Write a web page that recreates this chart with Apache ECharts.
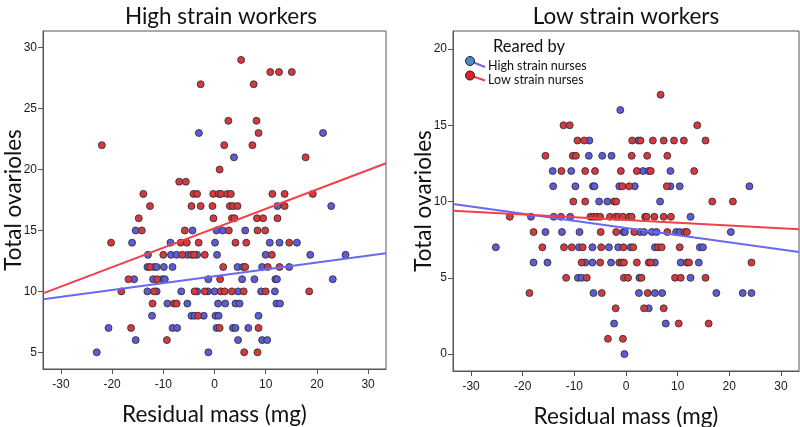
<!DOCTYPE html>
<html>
<head>
<meta charset="utf-8">
<script src="https://cdn.jsdelivr.net/npm/echarts@6/dist/echarts.min.js"></script>
<style>html,body{margin:0;padding:0;background:#fff}#c{width:800px;height:427px}</style>
</head>
<body>
<div id="c"></div>
<script>
// ---- Data ----
const panelTitles = ["High strain workers", "Low strain workers"];
const xAxisTitle = "Residual mass (mg)";
const yAxisTitle = "Total ovarioles";
const seriesNames = ["High strain nurses", "Low strain nurses"];
const legendTitle = "Reared by";
const xTicks = [-30, -20, -10, 0, 10, 20, 30];
const yTicksLeft = [5, 10, 15, 20, 25, 30];
const yTicksRight = [0, 5, 10, 15, 20];

// High strain workers, reared by high strain nurses (blue)
const leftBlue = [
  [-3.05,23],[21.2,23],[3.8,21],[12.3,17],[22.8,17],
  [-15.4,15],[-4.3,15],[0.4,15],[1.6,15],[6.0,15],
  [-16.1,14],[-8.6,14],[0.1,14],[10.8,14],[12.7,14],[16.1,14],
  [-13,13],[-8.5,13],[-7.4,13],[-5.3,13],[-3.4,13],[0.5,13],[10,13],[18.7,13],[25.6,13],
  [-13.1,12],[-11.8,12],[-11.3,12],[-9.9,12],[-8.2,12],[4.5,12],[5.6,12],[9.3,12],[14.6,12],
  [-15.7,11],[-12,11],[-10.2,11],[-9.7,11],[-1.2,11],[5.4,11],[7.8,11],[11.9,11],[12.2,11],[23.1,11],
  [-13.1,10],[-11.3,10],[-6.5,10],[-3.4,10],[-1.3,10],[0,10],[4.6,10],[9.1,10],[11.8,10],
  [-9.2,9],[-5.3,9],[0.7,9],[2.1,9],[4.1,9],[4.9,9],[12.1,9],[12.8,9],
  [-12.2,8],[-4.5,8],[-3.9,8],[-2.1,8],[0.2,8],[0.8,8],[8.6,8],
  [-20.7,7],[-8.2,7],[-7.3,7],[0.4,7],[3.6,7],[4.1,7],[6.6,7],
  [-15.4,6],[4.6,6],[9.3,6],[10.3,6],
  [-23,5],[-1.2,5]
];
// High strain workers, reared by low strain nurses (red)
const leftRed = [
  [5.2,29],[10.9,28],[12.6,28],[15.1,28],[-2.7,27],[7.65,27],
  [2.7,24],[8.2,24],[8.6,23],[-22,22],[1.9,22],[7.4,22],[17.8,21],[1.0,20],
  [-6.9,19],[-5.6,19],
  [-13.9,18],[-4.1,18],[-3.4,18],[-0.25,18],[0.85,18],[1.3,18],[2.5,18],[3.2,18],[11.3,18],[13.7,18],[19.2,18],
  [-12.6,17],[-4.5,17],[-2.7,17],[-0.4,17],[3.0,17],[3.6,17],[4.5,17],[13.7,17],
  [-14.8,16],[-0.2,16],[3.4,16],[3.9,16],[8.3,16],[9.5,16],[12.3,16],
  [-14.2,15],[-5.8,15],[2.8,15],[8.4,15],[9.9,15],
  [-20.2,14],[-6.6,14],[-5.4,14],[-3.1,14],[4.1,14],[6.2,14],[14.6,14],
  [-10,13],[-6.3,13],[-4.5,13],[-4.0,13],[-1.9,13],[11.2,13],
  [-12.6,12],[1.7,12],[6.0,12],[10.4,12],[12.7,12],
  [-16.8,11],[-11.2,11],[1.1,11],
  [-18.2,10],[-11.8,10],[-3.9,10],[-1.9,10],[1.2,10],[2.0,10],[3.4,10],[5.7,10],[10,10],[18.5,10],
  [-12.1,9],[-7.9,9],[-7.4,9],
  [-3.2,8],
  [-16.3,7],[1.0,7],[8.6,7],
  [-9.3,6],
  [5.8,5],[8.4,5]
];
// Low strain workers, reared by high strain nurses (blue)
const rightBlue = [
  [-1.1,16],[-7.1,14],[2.4,14],[-7.2,13],[-4.6,13],[-2.8,13],
  [-14.2,12],[-10.6,12],[3.3,12],[4.4,12],[8.6,12],
  [-14.1,11],[-9.8,11],[-6.4,11],[-6.1,11],[-1.3,11],[1.7,11],[8.6,11],[10.4,11],[23.9,11],
  [-5.2,10],[-3.6,10],[6.6,10],
  [-18.4,9],[-14,9],[-10.8,9],[12.5,9],
  [-15.6,8],[-12.4,8],[-9.0,8],[-0.5,8],[-0.2,8],[2.7,8],[3.5,8],[5.0,8],[5.9,8],[9.7,8],[10.4,8],[20.3,8],
  [-25.2,7],[-9.1,7],[-6.5,7],[-3.3,7],[-1.5,7],[0.9,7],[5.6,7],[14.3,7],[14.9,7],
  [-17.9,6],[-15.2,6],[-7.9,6],[-6.5,6],[-2.9,6],[5.6,6],[10.6,6],[14.1,6],
  [-9.3,5],[-8.6,5],[2.6,5],[12.5,5],
  [-6.3,4],[2.5,4],[5.6,4],[7.0,4],[17.5,4],[22.6,4],[24.3,4],
  [4.4,3],[-2.3,2],[7.7,2],[-0.3,0]
];
// Low strain workers, reared by low strain nurses (red)
const rightRed = [
  [6.7,17],[-12.1,15],[-10.9,15],[13.8,15],
  [-9.4,14],[-8.1,14],[1.2,14],[2.8,14],[5.2,14],[7.3,14],[9.3,14],[11.2,14],[15.4,14],
  [-15.6,13],[-10.3,13],[-9.7,13],[1.1,13],[4.1,13],[8.0,13],
  [-12.5,12],[-7.9,12],[-6.0,12],[-1.0,12],[2.1,12],[4.8,12],[13.2,12],
  [-0.7,11],[0.6,11],[7.9,11],
  [-10.2,10],[-7.9,10],[-2.3,10],[-1.9,10],[16.7,10],[20.7,10],
  [-22.5,9],[-12.6,9],[-6.9,9],[-6.3,9],[-5.7,9],[-5.0,9],[-3.1,9],[-2.0,9],[-1.5,9],[-0.6,9],[0.6,9],[1.1,9],[3.7,9],[4.0,9],[5.5,9],[7.3,9],[8.7,9],
  [-17.9,8],[-4.9,8],[-1.9,8],[1.6,8],[8.0,8],[11.4,8],[11.8,8],
  [-16.2,7],[-12,7],[-10.5,7],[-8.4,7],[-4.8,7],[-0.5,7],[1.4,7],[6.2,7],[6.9,7],[10.4,7],
  [-8.6,6],[-5.0,6],[-1.3,6],[-0.8,6],[-0.4,6],[2.1,6],[4.4,6],[4.8,6],[11.8,6],[12.2,6],[24.3,6],
  [-11.6,5],[-7.6,5],[-0.4,5],[0.4,5],[3.0,5],[9.5,5],[10.6,5],[15.4,5],
  [-18.7,4],[-4.7,4],[4.2,4],
  [-2.0,3],[3.5,3],[7.3,3],
  [10.2,2],[16.0,2],
  [-3.5,1],[-0.6,1]
];
// Fit lines: values at the left and right x-limits
const fitX = [-33.5, 33.5];
const leftBlueFit = [9.35, 13.13];
const leftRedFit = [9.84, 20.52];
const rightBlueFit = [9.84, 6.69];
const rightRedFit = [9.40, 8.18];

// ---- Chart ----
const BLUE = '#5c5cd6', RED = '#d23a40';
const BLUE_LINE = '#6868f2', RED_LINE = '#f2404a';
const chart = echarts.init(document.getElementById('c'), null, {renderer: 'canvas'});
const tickFont = {fontFamily: 'Liberation Sans, Arial, sans-serif', fontSize: 12, color: '#1a1a1a'};
const titleFont = {fontFamily: 'Lato, Carlito, sans-serif', fontSize: 22.5, color: '#111', fontWeight: 'normal'};

function xAxis(gi) {
  return {
    gridIndex: gi, type: 'value', min: -33.5, max: 33.5,
    name: xAxisTitle, nameLocation: 'middle', nameGap: 34,
    nameTextStyle: titleFont,
    axisLine: {show: true, onZero: false, lineStyle: {color: '#555', width: 1}},
    axisTick: {show: true, length: 5, inside: false, lineStyle: {color: '#555'}, customValues: xTicks},
    axisLabel: Object.assign({margin: 10, customValues: xTicks}, tickFont),
    splitLine: {show: false}
  };
}
function yAxis(gi, min, max, ticks) {
  return {
    gridIndex: gi, type: 'value', min: min, max: max,
    name: yAxisTitle, nameLocation: 'middle', nameGap: 18, nameRotate: 90,
    nameMoveOverlap: false,
    nameTextStyle: titleFont,
    axisLine: {show: true, onZero: false, lineStyle: {color: '#555', width: 1}},
    axisTick: {show: true, length: 5, inside: false, lineStyle: {color: '#555'}, customValues: ticks},
    axisLabel: Object.assign({margin: 6, customValues: ticks}, tickFont),
    splitLine: {show: false}
  };
}
function scatter(name, data, xi, color) {
  return {
    type: 'scatter', name: name, xAxisIndex: xi, yAxisIndex: xi, data: data,
    symbol: 'circle', symbolSize: 7,
    itemStyle: {color: color, borderColor: '#2a2a2a', borderWidth: 0.8, opacity: 1},
    z: 3, silent: true, animation: false
  };
}
function fit(values, xi, color) {
  return {
    type: 'line', xAxisIndex: xi, yAxisIndex: xi,
    data: fitX.map((x, i) => [x, values[i]]),
    symbol: 'none', lineStyle: {color: color, width: 2}, z: 4, silent: true, animation: false
  };
}

chart.setOption({
  animation: false,
  title: [
    {text: panelTitles[0], left: 216, top: 0, textAlign: 'center', textStyle: titleFont},
    {text: panelTitles[1], left: 621, top: 0, textAlign: 'center', textStyle: titleFont}
  ],
  grid: [
    {left: 43, top: 31, width: 343, height: 338, show: true, borderColor: '#555', borderWidth: 1, backgroundColor: '#fff', outerBoundsMode: 'none', containLabel: false},
    {left: 453, top: 31, width: 346, height: 340, show: true, borderColor: '#555', borderWidth: 1, backgroundColor: '#fff', outerBoundsMode: 'none', containLabel: false}
  ],
  xAxis: [xAxis(0), xAxis(1)],
  yAxis: [yAxis(0, 3.63, 31.37, yTicksLeft), yAxis(1, -1.11, 21.18, yTicksRight)],
  series: [
    scatter(seriesNames[0], leftBlue, 0, BLUE),
    scatter(seriesNames[1], leftRed, 0, RED),
    fit(leftBlueFit, 0, BLUE_LINE),
    fit(leftRedFit, 0, RED_LINE),
    scatter(seriesNames[0], rightBlue, 1, BLUE),
    scatter(seriesNames[1], rightRed, 1, RED),
    fit(rightBlueFit, 1, BLUE_LINE),
    fit(rightRedFit, 1, RED_LINE)
  ],
  graphic: [
    {type: 'text', left: 493, top: 38, style: {text: legendTitle, font: '16.5px Lato, Carlito, sans-serif', fill: '#111'}},
    {type: 'line', shape: {x1: 470, y1: 61, x2: 485, y2: 67}, style: {stroke: BLUE_LINE, lineWidth: 2}},
    {type: 'circle', shape: {cx: 470, cy: 61, r: 4.5}, style: {fill: '#4f88c9', stroke: '#222', lineWidth: 1}},
    {type: 'text', left: 488, top: 59, style: {text: seriesNames[0], font: '12.5px Lato, Carlito, sans-serif', fill: '#111'}},
    {type: 'line', shape: {x1: 470, y1: 75.5, x2: 485, y2: 80.5}, style: {stroke: RED_LINE, lineWidth: 2}},
    {type: 'circle', shape: {cx: 470, cy: 75.5, r: 4.5}, style: {fill: '#e0202a', stroke: '#222', lineWidth: 1}},
    {type: 'text', left: 488, top: 73, style: {text: seriesNames[1], font: '12.5px Lato, Carlito, sans-serif', fill: '#111'}}
  ]
});
</script>
</body>
</html>
